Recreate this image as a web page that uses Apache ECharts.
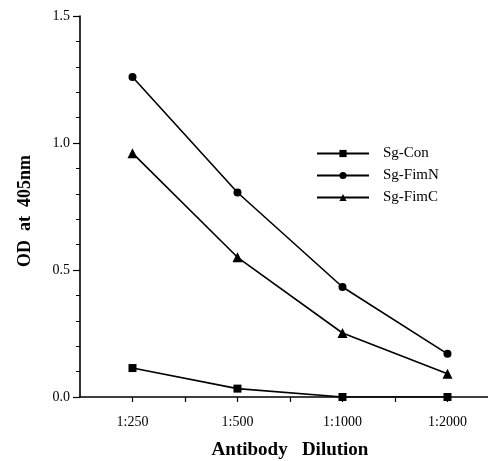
<!DOCTYPE html>
<html>
<head>
<meta charset="utf-8">
<script src="https://cdn.jsdelivr.net/npm/echarts@6/dist/echarts.min.js"></script>
<style>html,body{margin:0;padding:0;background:#fff;}#c{width:488px;height:461px;}</style>
</head>
<body>
<div id="c"></div>
<script>
var categories = ['1:250', '1:500', '1:1000', '1:2000'];
var sgCon = [0.114, 0.033, 0.0, 0.0];
var sgFimN = [1.26, 0.805, 0.433, 0.17];
var sgFimC = [0.96, 0.55, 0.252, 0.092];
var yTicks = [0, 0.5, 1.0, 1.5];

var FONT = '"Liberation Serif", "DejaVu Serif", serif';
function pts(arr) { return arr.map(function (v, i) { return [i + 1, v]; }); }

var chart = echarts.init(document.getElementById('c'), null, {renderer: 'canvas'});
var lineStyle = {color: '#000', width: 1.6};
function mkSeries(name, data, symbol, size) {
  return {
    name: name, type: 'line', data: pts(data), symbol: symbol, symbolSize: size,
    lineStyle: lineStyle, itemStyle: {color: '#000'}, animation: false,
    emphasis: {disabled: true}
  };
}
chart.setOption({
  backgroundColor: '#fff',
  animation: false,
  grid: {left: 80, top: 16, right: 0, bottom: 64},
  legend: {
    orient: 'vertical', left: 311, top: 141, itemWidth: 52, itemHeight: 9, itemGap: 7,
    textStyle: {fontFamily: FONT, fontSize: 15, color: '#000', padding: [0, 0, 0, 9]},
    data: ['Sg-Con', 'Sg-FimN', 'Sg-FimC']
  },
  xAxis: {
    type: 'value', min: 0.5, max: 4.386, interval: 0.5,
    axisLine: {lineStyle: {color: '#000', width: 1.6}},
    axisTick: {show: true, length: 5, lineStyle: {color: '#000', width: 1.2}},
    splitLine: {show: false},
    axisLabel: {
      margin: 18, fontFamily: FONT, fontSize: 14, color: '#000', showMaxLabel: false, showMinLabel: false,
      formatter: function (v) {
        var i = Math.round(v);
        return (Math.abs(v - i) < 1e-6 && i >= 1 && i <= categories.length) ? categories[i - 1] : '';
      }
    }
  },
  yAxis: {
    type: 'value', min: yTicks[0], max: yTicks[yTicks.length - 1], interval: 0.5,
    axisLine: {show: true, lineStyle: {color: '#000', width: 1.6}},
    axisTick: {show: true, length: 7, lineStyle: {color: '#000', width: 1.2}},
    minorTick: {show: true, splitNumber: 5, length: 4, lineStyle: {color: '#000', width: 1}},
    splitLine: {show: false},
    axisLabel: {margin: 10, fontFamily: FONT, fontSize: 14, color: '#000',
      formatter: function (v) { return v.toFixed(1); }}
  },
  graphic: [
    {type: 'text', x: 25, y: 211, rotation: Math.PI / 2,
     style: {text: 'OD  at  405nm', font: 'bold 18px ' + FONT, fill: '#000', align: 'center', verticalAlign: 'middle'}},
    {type: 'text', x: 290, y: 450,
     style: {text: 'Antibody   Dilution', font: 'bold 19px ' + FONT, fill: '#000', align: 'center', verticalAlign: 'middle'}}
  ],
  series: [
    mkSeries('Sg-Con', sgCon, 'rect', 8),
    mkSeries('Sg-FimN', sgFimN, 'circle', 8),
    mkSeries('Sg-FimC', sgFimC, 'triangle', 10)
  ]
});
</script>
</body>
</html>
